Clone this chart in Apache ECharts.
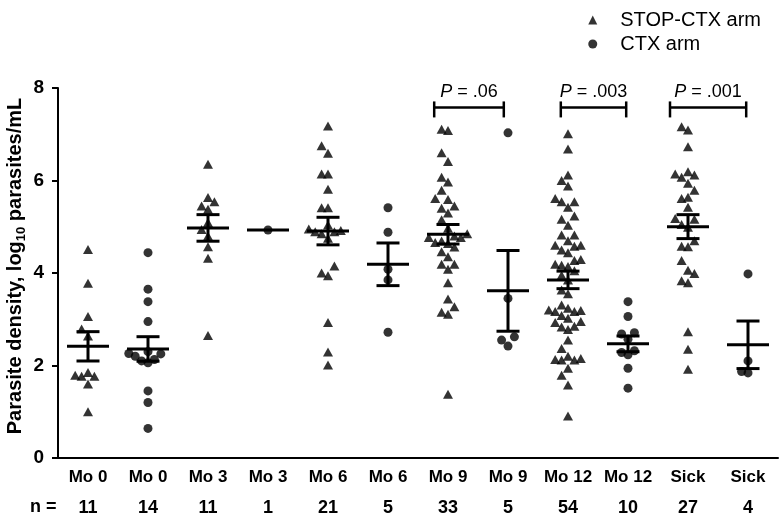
<!DOCTYPE html>
<html><head><meta charset="utf-8">
<script src="https://cdn.jsdelivr.net/npm/echarts@6/dist/echarts.min.js"></script>
<style>html,body{margin:0;padding:0;background:#fff}#c{width:780px;height:524px}</style>
</head><body><div id="c"></div>
<script>
// ---- data ----
const categories = ['Mo 0','Mo 0','Mo 3','Mo 3','Mo 6','Mo 6','Mo 9','Mo 9','Mo 12','Mo 12','Sick','Sick'];
const armNames = ['STOP-CTX arm', 'CTX arm'];
const stopMo0 = [4.51, 3.78, 3.06, 2.79, 2.64, 1.85, 1.79, 1.77, 1.77, 1.60, 1.00];
const ctxMo0 = [4.44, 3.65, 3.38, 2.95, 2.30, 2.26, 2.25, 2.20, 2.13, 2.10, 2.06, 1.45, 1.20, 0.64];
const stopMo3 = [6.35, 5.63, 5.54, 5.45, 5.38, 5.09, 4.94, 4.80, 4.57, 4.32, 2.65];
const ctxMo3 = [4.93];
const stopMo6 = [7.18, 6.75, 6.59, 6.14, 6.14, 5.81, 5.41, 5.41, 5.04, 4.95, 4.92, 4.89, 4.89, 4.85, 4.75, 4.15, 4.00, 3.94, 2.93, 2.29, 2.01];
const ctxMo6 = [5.41, 4.88, 4.08, 3.85, 2.72];
const stopMo9 = [7.11, 7.08, 6.60, 6.41, 6.07, 5.97, 5.79, 5.61, 5.59, 5.45, 5.40, 5.30, 5.15, 4.97, 4.85, 4.80, 4.77, 4.77, 4.69, 4.66, 4.64, 4.56, 4.46, 4.35, 4.19, 4.19, 4.08, 3.79, 3.44, 3.27, 3.15, 3.11, 1.38];
const ctxMo9 = [7.03, 3.45, 2.62, 2.55, 2.42];
const stopMo12 = [7.01, 6.68, 6.12, 6.00, 5.88, 5.61, 5.54, 5.54, 5.42, 5.23, 5.16, 5.03, 4.82, 4.82, 4.70, 4.60, 4.60, 4.58, 4.50, 4.44, 4.29, 4.27, 4.17, 4.14, 4.19, 4.05, 3.95,
                  3.85, 3.63, 3.55, 3.31, 3.24, 3.20, 3.19, 3.17, 3.17, 3.08, 3.02, 2.95, 2.93, 2.85, 2.83, 2.78, 2.55, 2.37, 2.20, 2.15, 2.13, 2.12, 2.12, 1.94, 1.79, 1.58, 0.91];
const ctxMo12 = [3.38, 3.06, 2.71, 2.68, 2.57, 2.32, 2.28, 2.23, 1.94, 1.51];
const stopSick = [7.16, 7.09, 6.73, 6.19, 6.14, 6.12, 6.07, 5.94, 5.79, 5.64, 5.61, 5.42, 5.18, 5.16, 5.05, 4.99, 4.70, 4.58, 4.57, 4.27, 4.06, 3.99, 3.83, 3.79, 2.73, 2.35, 1.92];
const ctxSick = [3.98, 2.10, 1.87, 1.84];
const groups = [stopMo0, ctxMo0, stopMo3, ctxMo3, stopMo6, ctxMo6, stopMo9, ctxMo9, stopMo12, ctxMo12, stopSick, ctxSick];
const pValues = ['.06', '.003', '.001'];
const pPairs = [[6, 7], [8, 9], [10, 11]];

// ---- layout constants (not data) ----
const FONT = '"Liberation Sans", Arial, sans-serif';
const SLOT = 6.4 / 60;      // horizontal swarm step, in category units
const Y_GAP = 10 / 46.25;   // vertical collision distance, in value units
const BRACKET_Y = 7.58;
const bracketInset = [[-0.23, -0.07], [-0.12, -0.03], [-0.30, -0.03]];

function swarm(values, cat) {
  const sorted = values.slice().sort((a, b) => a - b);
  const placed = [];
  return sorted.map(v => {
    let slot = 0;
    for (let t = 0; t < 60; t++) {
      const s = t === 0 ? 0 : (t % 2 ? -Math.ceil(t / 2) : Math.ceil(t / 2));
      if (!placed.some(p => p.s === s && Math.abs(p.v - v) < Y_GAP)) { slot = s; break; }
    }
    placed.push({ s: slot, v });
    return [cat + slot * SLOT, v];
  });
}
function stats(arr, i) {
  const n = arr.length;
  const m = arr.reduce((a, b) => a + b, 0) / n;
  let sem = null;
  if (n > 1) {
    const sd = Math.sqrt(arr.reduce((a, b) => a + (b - m) * (b - m), 0) / (n - 1));
    sem = sd / Math.sqrt(n);
  }
  return [i, m, sem];
}

const stopPts = [], ctxPts = [];
groups.forEach((g, i) => { (i % 2 === 0 ? stopPts : ctxPts).push(...swarm(g, i)); });
const summary = groups.map((g, i) => stats(g, i));
const counts = groups.map(g => g.length);

const chart = echarts.init(document.getElementById('c'), null, { renderer: 'canvas' });
chart.setOption({
  backgroundColor: '#fff',
  animation: false,
  textStyle: { fontFamily: FONT },
  grid: { left: 58, right: 2, top: 88, bottom: 66, containLabel: false, outerBoundsMode: 'none' },
  legend: {
    orient: 'vertical', right: 14, top: 4, itemGap: 2,
    itemWidth: 9, itemHeight: 9,
    data: [{ name: armNames[0], icon: 'triangle' }, { name: armNames[1], icon: 'circle' }],
    textStyle: { fontFamily: FONT, fontSize: 20, color: '#000', lineHeight: 22, padding: [0, 0, 0, 18] },
    itemStyle: { color: '#000' }
  },
  xAxis: [{
    type: 'category', data: categories, boundaryGap: true,
    axisLine: { lineStyle: { color: '#000', width: 2 } },
    axisTick: { alignWithLabel: true, length: 6, lineStyle: { color: '#000', width: 2 } },
    axisLabel: {
      interval: 0, margin: 8, color: '#000',
      formatter: (v, i) => '{c|' + v + '}\n{n|' + counts[i] + '}',
      rich: {
        c: { fontFamily: FONT, fontSize: 17, fontWeight: 'bold', lineHeight: 22, color: '#000' },
        n: { fontFamily: FONT, fontSize: 18, fontWeight: 'bold', lineHeight: 40, color: '#000' }
      }
    },
    splitLine: { show: false }
  }, {
    type: 'value', min: -0.5, max: 11.5, show: false
  }],
  yAxis: {
    type: 'value', min: 0, max: 8, interval: 2,
    axisLine: { show: true, onZero: false, lineStyle: { color: '#000', width: 2 } },
    axisTick: { show: true, length: 6, lineStyle: { color: '#000', width: 2 } },
    axisLabel: { color: '#000', fontFamily: FONT, fontSize: 19, fontWeight: 'bold', margin: 14 },
    splitLine: { show: false },
    name: '{t|Parasite density, log}{s|10}{t| parasites/mL}',
    nameLocation: 'middle', nameGap: 30, nameRotate: 90, nameMoveOverlap: false,
    nameTextStyle: {
      padding: [0, 0, 0, 14],
      rich: {
        t: { fontFamily: FONT, fontSize: 20, fontWeight: 'bold', color: '#000', lineHeight: 26, verticalAlign: 'middle' },
        s: { fontFamily: FONT, fontSize: 13, fontWeight: 'bold', color: '#000', lineHeight: 26, verticalAlign: 'bottom' }
      }
    }
  },
  graphic: [{
    type: 'text', left: 30, top: 498,
    style: { text: 'n =', font: 'bold 18px ' + FONT, fill: '#000' }
  }],
  series: [{
    name: armNames[0], type: 'scatter', xAxisIndex: 1, data: stopPts,
    symbol: 'triangle', symbolSize: [10, 9], itemStyle: { color: '#000' }, z: 3
  }, {
    name: armNames[1], type: 'scatter', xAxisIndex: 1, data: ctxPts,
    symbol: 'circle', symbolSize: 9, itemStyle: { color: '#000' }, z: 3
  }, {
    name: 'mean', type: 'custom', xAxisIndex: 1, data: summary, z: 4,
    renderItem: (params, api) => {
      const x = api.value(0), m = api.value(1), s = api.value(2);
      const c = api.coord([x, m]);
      const st = { stroke: '#000', lineWidth: 3 };
      const ch = [{ type: 'line', shape: { x1: c[0] - 21, y1: c[1], x2: c[0] + 21, y2: c[1] }, style: st }];
      if (isFinite(s) && s > 0) {
        const t = api.coord([x, m + s]), b = api.coord([x, m - s]);
        ch.push({ type: 'line', shape: { x1: c[0], y1: t[1], x2: c[0], y2: b[1] }, style: st });
        ch.push({ type: 'line', shape: { x1: c[0] - 11.5, y1: t[1], x2: c[0] + 11.5, y2: t[1] }, style: st });
        ch.push({ type: 'line', shape: { x1: c[0] - 11.5, y1: b[1], x2: c[0] + 11.5, y2: b[1] }, style: st });
      }
      return { type: 'group', children: ch };
    }
  }, {
    name: 'p', type: 'custom', xAxisIndex: 1, z: 5,
    data: pPairs.map((p, i) => [p[0] + bracketInset[i][0], p[1] + bracketInset[i][1], BRACKET_Y, i]),
    renderItem: (params, api) => {
      const a = api.coord([api.value(0), api.value(2)]);
      const b = api.coord([api.value(1), api.value(2)]);
      const i = api.value(3);
      const st = { stroke: '#000', lineWidth: 2.5 };
      return { type: 'group', children: [
        { type: 'line', shape: { x1: a[0], y1: a[1], x2: b[0], y2: b[1] }, style: st },
        { type: 'line', shape: { x1: a[0], y1: a[1] - 6, x2: a[0], y2: a[1] + 10 }, style: st },
        { type: 'line', shape: { x1: b[0], y1: b[1] - 6, x2: b[0], y2: b[1] + 10 }, style: st },
        { type: 'text', style: {
            text: '{i|P} = ' + pValues[i], x: (a[0] + b[0]) / 2, y: a[1] - 15,
            align: 'center', verticalAlign: 'middle', fill: '#000', font: '18px ' + FONT,
            rich: { i: { fontStyle: 'italic', fontSize: 18, fontFamily: FONT, fill: '#000' } }
        } }
      ] };
    }
  }]
});
</script>
</body></html>
